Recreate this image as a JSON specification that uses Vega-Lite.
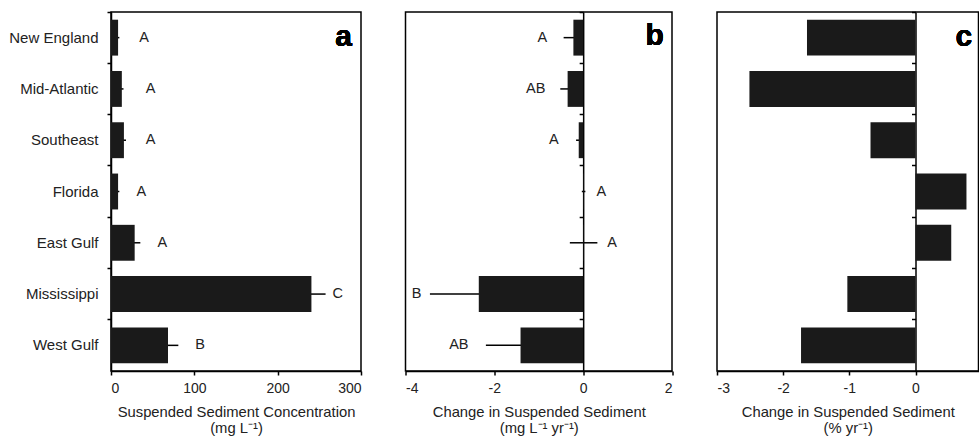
{
  "$schema": "https://vega.github.io/schema/vega-lite/v6.json",
  "padding": {"left": 8, "top": 10, "right": 0, "bottom": 0},
  "background": "white",
  "config": {
    "font": "Liberation Sans",
    "view": {"stroke": "black", "strokeWidth": 1.5},
    "axis": {
      "domainColor": "black", "domainWidth": 1.5, "tickColor": "black", "tickWidth": 1.5, "tickSize": 4,
      "labelFont": "Liberation Sans", "labelFontSize": 14, "labelColor": "#222", "labelPadding": 6,
      "titleFont": "Liberation Sans", "titleFontSize": 14.8, "titleFontWeight": "normal", "titleColor": "#222",
      "titlePadding": 9, "titleLineHeight": 16, "grid": false
    }
  },
  "data": {"values": [
    {"region": "New England", "conc": 8.5, "concSE": 1.5, "concLetter": "A", "concLetterX": 39.6, "chg": -0.22, "chgSE": 0.22, "chgLetter": "A", "chgLetterX": -0.92, "pct": -1.64},
    {"region": "Mid-Atlantic", "conc": 13, "concSE": 2, "concLetter": "A", "concLetterX": 47.6, "chg": -0.35, "chgSE": 0.165, "chgLetter": "AB", "chgLetterX": -1.07, "pct": -2.51},
    {"region": "Southeast", "conc": 15.5, "concSE": 2.5, "concLetter": "A", "concLetterX": 47.6, "chg": -0.1, "chgSE": 0.06, "chgLetter": "A", "chgLetterX": -0.66, "pct": -0.68},
    {"region": "Florida", "conc": 8.5, "concSE": 1.5, "concLetter": "A", "concLetterX": 36.4, "chg": 0.01, "chgSE": 0.04, "chgLetter": "A", "chgLetterX": 0.41, "pct": 0.77},
    {"region": "East Gulf", "conc": 28.4, "concSE": 6.8, "concLetter": "A", "concLetterX": 61.6, "chg": 0.01, "chgSE": 0.31, "chgLetter": "A", "chgLetterX": 0.65, "pct": 0.54},
    {"region": "Mississippi", "conc": 240.5, "concSE": 17, "concLetter": "C", "concLetterX": 272, "chg": -2.35, "chgSE": 1.1, "chgLetter": "B", "chgLetterX": -3.75, "pct": -1.03},
    {"region": "West Gulf", "conc": 68.4, "concSE": 12.4, "concLetter": "B", "concLetterX": 107, "chg": -1.41, "chgSE": 0.78, "chgLetter": "AB", "chgLetterX": -2.8, "pct": -1.73}
  ]},
  "hconcat": [
    {
      "width": 250, "height": 359,
      "encoding": {
        "y": {"field": "region", "type": "nominal", "sort": null,
          "scale": {"paddingInner": 0, "paddingOuter": 0},
          "axis": {"title": null, "bandPosition": 0, "labelPadding": 9, "labelFontSize": 15, "tickSize": 4}}
      },
      "layer": [
        {"mark": {"type": "errorbar", "color": "black", "thickness": 1.5},
         "encoding": {"x": {"field": "conc", "type": "quantitative", "scale": {"domain": [0, 300], "nice": false},
           "axis": {"values": [0, 100, 200, 300], "title": ["Suspended Sediment Concentration", "(mg L⁻¹)"]}}, "xError": {"field": "concSE"}}},
        {"mark": {"type": "bar", "color": "#1a1a1a", "height": {"band": 0.7}},
         "encoding": {"x": {"field": "conc", "type": "quantitative", "scale": {"domain": [0, 300], "nice": false},
           "axis": {"values": [0, 100, 200, 300], "title": ["Suspended Sediment Concentration", "(mg L⁻¹)"]}}}},
        {"mark": {"type": "text", "fontSize": 14.5, "color": "#222", "align": "center", "baseline": "middle"},
         "encoding": {"x": {"field": "concLetterX", "type": "quantitative", "scale": {"domain": [0, 300], "nice": false},
           "axis": {"values": [0, 100, 200, 300], "title": ["Suspended Sediment Concentration", "(mg L⁻¹)"]}}, "text": {"field": "concLetter"}}},
        {"mark": {"type": "text", "fontSize": 30, "fontWeight": "bold", "color": "black", "align": "right", "baseline": "alphabetic", "dy": 8.5},
         "encoding": {"x": {"datum": 289}, "y": {"datum": "New England"}, "text": {"value": "a"}}}
      ]
    },
    {
      "width": 266.5, "height": 359,
      "encoding": {
        "y": {"field": "region", "type": "nominal", "sort": null,
          "scale": {"paddingInner": 0, "paddingOuter": 0},
          "axis": {"title": null, "bandPosition": 0, "labels": false, "offset": -177.67, "tickSize": 4}}
      },
      "layer": [
        {"mark": {"type": "errorbar", "color": "black", "thickness": 1.5},
         "encoding": {"x": {"field": "chg", "type": "quantitative", "scale": {"domain": [-4, 2], "nice": false},
           "axis": {"values": [-4, -2, 0, 2], "format": "d", "labelExpr": "replace(datum.label, '−', '-')", "title": ["Change in Suspended Sediment", "(mg L⁻¹ yr⁻¹)"]}}, "xError": {"field": "chgSE"}}},
        {"mark": {"type": "bar", "color": "#1a1a1a", "height": {"band": 0.7}},
         "encoding": {"x": {"field": "chg", "type": "quantitative", "scale": {"domain": [-4, 2], "nice": false},
           "axis": {"values": [-4, -2, 0, 2], "format": "d", "labelExpr": "replace(datum.label, '−', '-')", "title": ["Change in Suspended Sediment", "(mg L⁻¹ yr⁻¹)"]}}}},
        {"mark": {"type": "text", "fontSize": 14.5, "color": "#222", "align": "center", "baseline": "middle"},
         "encoding": {"x": {"field": "chgLetterX", "type": "quantitative", "scale": {"domain": [-4, 2], "nice": false},
           "axis": {"values": [-4, -2, 0, 2], "format": "d", "labelExpr": "replace(datum.label, '−', '-')", "title": ["Change in Suspended Sediment", "(mg L⁻¹ yr⁻¹)"]}}, "text": {"field": "chgLetter"}}},
        {"mark": {"type": "text", "fontSize": 30, "fontWeight": "bold", "color": "black", "align": "right", "baseline": "alphabetic", "dy": 7.5},
         "encoding": {"x": {"datum": 1.815}, "y": {"datum": "New England"}, "text": {"value": "b"}}}
      ]
    },
    {
      "width": 261.5, "height": 359,
      "encoding": {
        "y": {"field": "region", "type": "nominal", "sort": null,
          "scale": {"paddingInner": 0, "paddingOuter": 0},
          "axis": {"title": null, "bandPosition": 0, "labels": false, "offset": -198.5, "tickSize": 4}}
      },
      "layer": [
        {"mark": {"type": "bar", "color": "#1a1a1a", "height": {"band": 0.7}},
         "encoding": {"x": {"field": "pct", "type": "quantitative", "scale": {"domain": [-3, 0.952], "nice": false},
           "axis": {"values": [-3, -2, -1, 0], "format": "d", "labelExpr": "replace(datum.label, '−', '-')", "title": ["Change in Suspended Sediment", "(% yr⁻¹)"]}}}},
        {"mark": {"type": "text", "fontSize": 30, "fontWeight": "bold", "color": "black", "align": "right", "baseline": "alphabetic", "dy": 8.5},
         "encoding": {"x": {"datum": 0.857}, "y": {"datum": "New England"}, "text": {"value": "c"}}}
      ]
    }
  ],
  "spacing": 44.5,
  "bounds": "flush"
}
